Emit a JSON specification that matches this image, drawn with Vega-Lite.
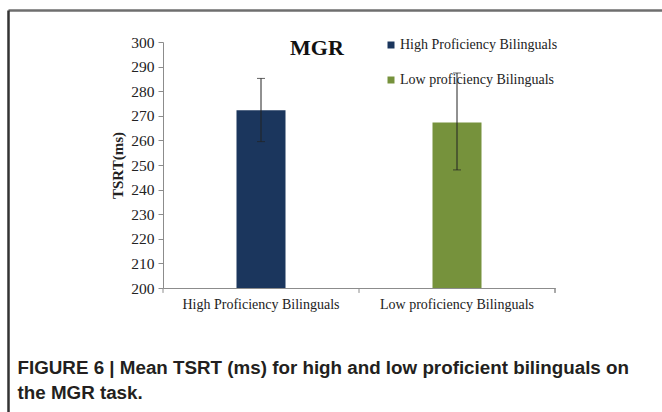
{
  "$schema": "https://vega.github.io/schema/vega-lite/v6.json",
  "width": 654,
  "height": 402,
  "autosize": "none",
  "padding": {"left": 8, "top": 10, "right": 0, "bottom": 0},
  "background": "white",
  "config": {"view": {"stroke": null}, "font": "Liberation Serif"},
  "data": {
    "values": [
      {"group": "High Proficiency Bilinguals", "mean": 272.3, "lo": 259.5, "hi": 285.2},
      {"group": "Low proficiency Bilinguals", "mean": 267.3, "lo": 248.0, "hi": 287.4}
    ]
  },
  "resolve": {
    "scale": {"x": "independent", "y": "independent"},
    "axis": {"x": "independent", "y": "independent"}
  },
  "layer": [
    {
      "layer": [
        {
          "mark": {"type": "bar", "size": 49},
          "encoding": {
            "x": {
              "field": "group", "type": "nominal", "sort": null,
              "scale": {"range": [155, 547], "paddingInner": 0, "paddingOuter": 0},
              "axis": {
                "orient": "bottom",
                "offset": -124,
                "labelAngle": 0,
                "labelFont": "Liberation Serif",
                "labelFontSize": 14,
                "labelColor": "#222222",
                "labelPadding": 9,
                "tickSize": 0,
                "domainColor": "#8c8c8c",
                "domainWidth": 1,
                "title": ["FIGURE 6 | Mean TSRT (ms) for high and low proficient bilinguals on", "the MGR task."],
                "titleFont": "Liberation Sans",
                "titleFontSize": 18.8,
                "titleFontWeight": "bold",
                "titleColor": "#231f20",
                "titleAlign": "left",
                "titleBaseline": "top",
                "titleAnchor": "start",
                "titleX": 9,
                "titleY": 70,
                "titleLineHeight": 25
              }
            },
            "y": {
              "field": "mean", "type": "quantitative",
              "scale": {"domain": [200, 300], "range": [278, 32], "zero": false, "nice": false},
              "axis": {
                "orient": "left",
                "offset": -155,
                "values": [200, 210, 220, 230, 240, 250, 260, 270, 280, 290, 300],
                "grid": false,
                "labelFont": "Liberation Serif",
                "labelFontSize": 15.5,
                "labelColor": "#222222",
                "labelPadding": 4,
                "tickSize": 5,
                "tickColor": "#8c8c8c",
                "domainColor": "#8c8c8c",
                "title": "TSRT(ms)",
                "titleFont": "Liberation Serif",
                "titleFontSize": 15,
                "titleFontWeight": "bold",
                "titleColor": "#222222",
                "titlePadding": 5
              }
            },
            "y2": {"datum": 200},
            "color": {
              "field": "group", "type": "nominal", "sort": null,
              "scale": {"range": ["#1b365d", "#76923c"]},
              "legend": {
                "orient": "none",
                "legendX": 282,
                "legendY": 28,
                "direction": "vertical",
                "title": "MGR",
                "titleOrient": "left",
                "titleAnchor": "start",
                "titleFont": "Liberation Serif",
                "titleFontSize": 22,
                "titleFontWeight": "bold",
                "titleColor": "#111111",
                "titlePadding": 40,
                "symbolType": "square",
                "symbolSize": 49,
                "symbolStrokeWidth": 0,
                "labelFont": "Liberation Serif",
                "labelFontSize": 14,
                "labelColor": "#222222",
                "labelOffset": 2,
                "rowPadding": 21,
                "labelLimit": 300
              }
            }
          }
        },
        {
          "mark": {"type": "rule", "color": "#222222", "strokeWidth": 1},
          "encoding": {
            "x": {"field": "group", "type": "nominal", "sort": null},
            "y": {"field": "lo", "type": "quantitative"},
            "y2": {"field": "hi"}
          }
        },
        {
          "mark": {"type": "tick", "orient": "horizontal", "size": 8, "thickness": 1, "color": "#222222"},
          "encoding": {
            "x": {"field": "group", "type": "nominal", "sort": null},
            "y": {"field": "lo", "type": "quantitative"}
          }
        },
        {
          "mark": {"type": "tick", "orient": "horizontal", "size": 8, "thickness": 1, "color": "#222222"},
          "encoding": {
            "x": {"field": "group", "type": "nominal", "sort": null},
            "y": {"field": "hi", "type": "quantitative"}
          }
        },
        {
          "mark": {"type": "rule", "color": "#8c8c8c", "strokeWidth": 1},
          "encoding": {
            "x": {"field": "group", "type": "nominal", "sort": null, "bandPosition": 0},
            "y": {"datum": 200},
            "y2": {"datum": 198}
          }
        },
        {
          "mark": {"type": "rule", "color": "#8c8c8c", "strokeWidth": 1},
          "encoding": {
            "x": {"datum": "Low proficiency Bilinguals", "type": "nominal", "bandPosition": 1},
            "y": {"datum": 200},
            "y2": {"datum": 198}
          }
        }
      ]
    },
    {
      "mark": {"type": "rule", "opacity": 0},
      "encoding": {
        "x": {
          "field": "group", "type": "nominal",
          "axis": {"orient": "top", "labels": false, "ticks": false, "title": null, "domain": true, "domainColor": "#6e6e6e", "domainWidth": 2.5}
        },
        "y": {
          "field": "mean", "type": "quantitative",
          "axis": {"orient": "left", "labels": false, "ticks": false, "grid": false, "title": null, "domain": true, "domainColor": "#333333", "domainWidth": 2.5}
        }
      }
    }
  ]
}
